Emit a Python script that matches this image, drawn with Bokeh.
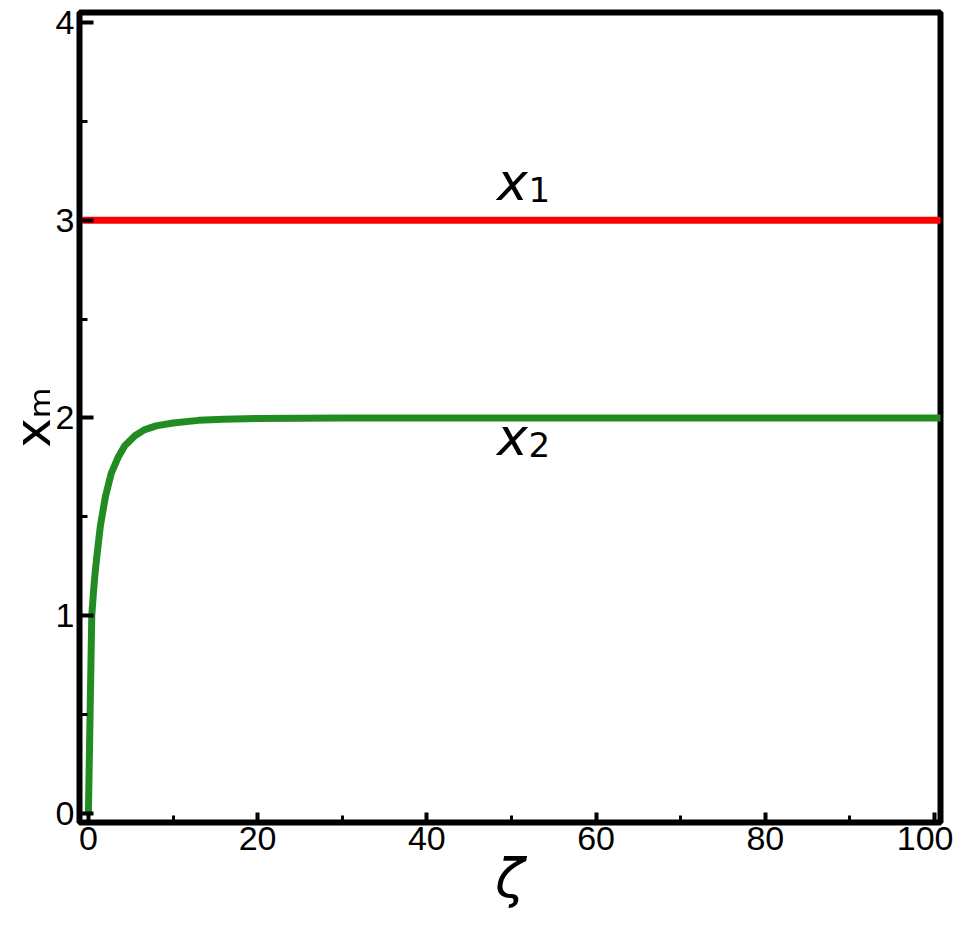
from bokeh.plotting import figure
from bokeh.models import Range1d, Label, FixedTicker
from bokeh.embed import file_html
from bokeh.resources import INLINE

# ---- data ----
zeta_x1 = [-2, 102]
x1_vals = [3.0, 3.0]

zeta_x2 = [0, 0.2, 0.4, 0.6, 0.8, 1.0, 1.4, 2.0, 2.7, 3.5, 4.3, 5.5, 6.6, 8, 10, 13, 16, 20, 30, 40, 60, 80, 100, 102]
x2_vals = [0.0, 0.5, 1.0, 1.12, 1.22, 1.3, 1.45, 1.6, 1.72, 1.8, 1.86, 1.91, 1.94, 1.96, 1.975, 1.988, 1.994, 1.998, 2.0, 2.0, 2.0, 2.0, 2.0, 2.0]

x_ticks = [0, 20, 40, 60, 80, 100]
x_minor = [10, 30, 50, 70, 90]
y_ticks = [0, 1, 2, 3, 4]
y_minor = [0.5, 1.5, 2.5, 3.5]

# label anchors (data coords)
lbl1_main = (48.3, 3.195)
lbl1_sub = (52.0, 3.155)
lbl2_main = (48.3, 1.905)
lbl2_sub = (52.0, 1.865)

p = figure(width=953, height=912, output_backend="svg", toolbar_location=None,
           x_range=Range1d(-1.05, 100.7), y_range=Range1d(-0.045, 4.05),
           min_border_left=73, min_border_right=13, min_border_top=12, min_border_bottom=90)

p.xgrid.visible = False
p.ygrid.visible = False
p.outline_line_color = "black"
p.outline_line_width = 6
p.outline_line_alpha = 1.0

p.line(zeta_x1, x1_vals, line_color="#ff0000", line_width=7)
p.line(zeta_x2, x2_vals, line_color="#228b22", line_width=7)

for ax in (p.xaxis[0], p.yaxis[0]):
    ax.axis_line_width = 5
    ax.axis_line_color = "black"
    ax.major_tick_out = 0
    ax.minor_tick_out = 0
    ax.major_tick_line_width = 4
    ax.minor_tick_line_width = 3
    ax.major_label_text_font = "Liberation Sans"
    ax.major_label_text_font_size = "34px"
    ax.major_label_text_color = "black"

p.xaxis.ticker = FixedTicker(ticks=x_ticks, minor_ticks=x_minor)
p.yaxis.ticker = FixedTicker(ticks=y_ticks, minor_ticks=y_minor)
p.xaxis.major_tick_in = 10
p.xaxis.minor_tick_in = 7
p.yaxis.major_tick_in = 14
p.yaxis.minor_tick_in = 8
p.xaxis.major_label_standoff = 4
p.yaxis.major_label_standoff = 5
p.xaxis.major_label_text_line_height = 0.9

p.xaxis.axis_label = "ζ"
p.xaxis.axis_label_text_font = "DejaVu Sans"
p.xaxis.axis_label_text_font_style = "italic"
p.xaxis.axis_label_text_font_size = "54px"
p.xaxis.axis_label_text_line_height = 0.8
p.xaxis.axis_label_standoff = -6
p.xaxis.axis_label_text_color = "black"

p.yaxis.axis_label = "xₘ"
p.yaxis.axis_label_text_font = "DejaVu Sans"
p.yaxis.axis_label_text_font_style = "normal"
p.yaxis.axis_label_text_font_size = "50px"
p.yaxis.axis_label_standoff = -9
p.yaxis.axis_label_text_color = "black"

for (pos, txt, size, style) in [(lbl1_main, "x", "52px", "italic"), (lbl1_sub, "1", "34px", "normal"),
                                (lbl2_main, "x", "52px", "italic"), (lbl2_sub, "2", "34px", "normal")]:
    p.add_layout(Label(x=pos[0], y=pos[1], text=txt, text_font="DejaVu Sans", text_font_size=size,
                       text_font_style=style, text_color="black", text_align="left",
                       text_baseline="alphabetic"))

open("out.html", "w").write(file_html(p, INLINE))
